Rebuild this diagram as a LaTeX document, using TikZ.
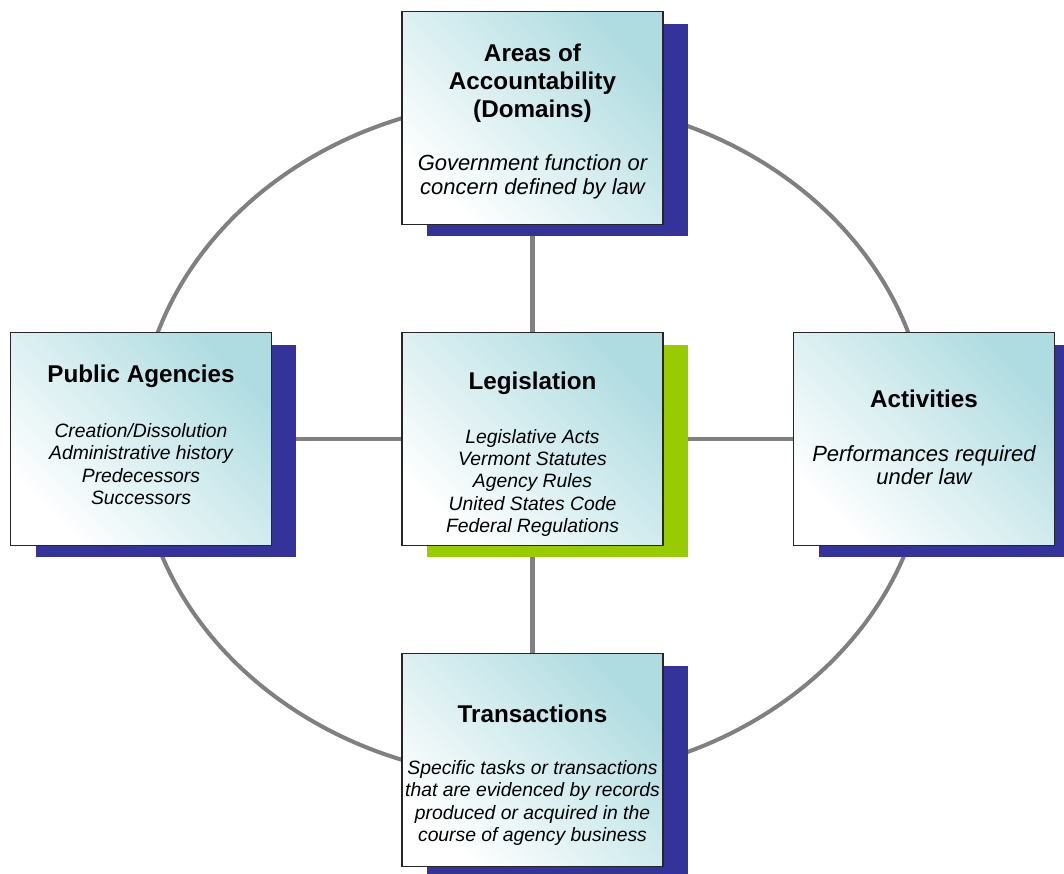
\documentclass[tikz,border=0pt]{standalone}
\usepackage{fontspec}
\setmainfont{Liberation Sans}
\usetikzlibrary{shadows,backgrounds}

\definecolor{boxteal}{RGB}{175,220,225}
\definecolor{shadowblue}{RGB}{51,51,153}
\definecolor{shadowgreen}{RGB}{153,204,0}
\definecolor{ringgray}{RGB}{128,128,128}

\tikzset{
  area/.style={draw=black!85, line width=0.9pt, minimum width=5.22cm, minimum height=4.26cm,
    inner sep=0pt, top color=boxteal, middle color=boxteal!25!white, bottom color=white, shading angle=-45},
  blueshadow/.style={drop shadow={shadow xshift=0.5cm, shadow yshift=-0.24cm, opacity=1, fill=shadowblue}},
  greenshadow/.style={drop shadow={shadow xshift=0.5cm, shadow yshift=-0.24cm, opacity=1, fill=shadowgreen}},
  boxtitle/.style={align=center, inner sep=0pt, font=\fontsize{13.8}{15.9}\selectfont\bfseries},
  boxtext/.style={align=center, inner sep=0pt, font=\fontsize{11}{12.7}\selectfont\itshape},
  bigtext/.style={boxtext, font=\fontsize{12.5}{13.4}\selectfont\itshape},
  link/.style={draw=ringgray, line width=2.3pt}
}

\begin{document}
\begin{tikzpicture}[x=0.02cm, y=-0.02cm]
    \path[use as bounding box, clip] (0,0) rectangle (1064,874);

    % Draw the five boxes
    \node[area, blueshadow]  (areas)      at (532.5,118) {};
    \node[area, greenshadow] (leg)        at (532.5,439) {};
    \node[area, blueshadow]  (agencies)   at (141,439) {};
    \node[area, blueshadow]  (activities) at (924,439) {};
    \node[area, blueshadow]  (trans)      at (532.5,760) {};

    % Titles and descriptions
    \node[boxtitle] (areas-t) at ([shift={(0,-35)}]areas.center) {Areas of\\Accountability\\(Domains)};
    \node[bigtext]  (areas-d) at ([shift={(0,59)}]areas.center) {Government function or\\concern defined by law};

    \node[boxtitle] (leg-t) at ([shift={(0,-56)}]leg.center) {Legislation};
    \node[boxtext]  (leg-d) at ([shift={(0,44)}]leg.center)
        {Legislative Acts\\Vermont Statutes\\Agency Rules\\United States Code\\Federal Regulations};

    \node[boxtitle] (agencies-t) at ([shift={(0,-63)}]agencies.center) {Public Agencies};
    \node[boxtext]  (agencies-d) at ([shift={(0,25)}]agencies.center)
        {Creation/Dissolution\\Administrative history\\Predecessors\\Successors};

    \node[boxtitle] (activities-t) at ([shift={(0,-40)}]activities.center) {Activities};
    \node[bigtext]  (activities-d) at ([shift={(0,26)}]activities.center) {Performances required\\under law};

    \node[boxtitle] (trans-t) at ([shift={(0,-46)}]trans.center) {Transactions};
    \node[boxtext]  (trans-d) at ([shift={(0,43)}]trans.center)
        {Specific tasks or transactions\\that are evidenced by records\\produced or acquired in the\\course of agency business};

    % Ring and cross lines behind the boxes
    \begin{scope}[on background layer]
        \draw[link] (533,439) ellipse [x radius=395, y radius=340];
        \draw[link] (areas) -- (leg);
        \draw[link] (leg) -- (trans);
        \draw[link] (agencies) -- (leg);
        \draw[link] (leg) -- (activities);
    \end{scope}
\end{tikzpicture}
\end{document}
